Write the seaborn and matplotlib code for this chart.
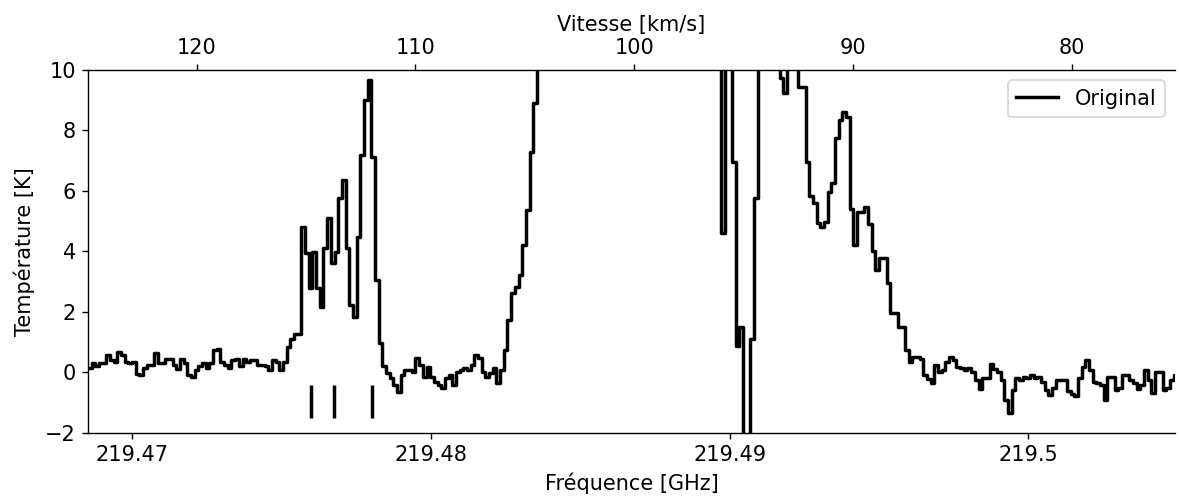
import numpy as np
import pandas as pd
import matplotlib
matplotlib.use("Agg")
import matplotlib.pyplot as plt
import matplotlib as mpl
import matplotlib.ticker as mticker
import seaborn as sns

mpl.rcParams["axes.labelsize"] = 12
mpl.rcParams["xtick.labelsize"] = 12
mpl.rcParams["ytick.labelsize"] = 12
mpl.rcParams["legend.fontsize"] = 12

# spectral grid (GHz)
FREQ_START = 219.468513
CHANNEL_WIDTH = 0.00012321
REST_FREQ = 219.56004  # for the velocity axis
C_KMS = 299792.458

# brightness temperature per channel [K]
baseline_left = [0.15, 0.3, 0.2, 0.3, 0.3, 0.58, 0.4, 0.36, 0.69, 0.58, 0.36, 0.3,
                 0.36, -0.05, -0.08, 0.15, 0.26, 0.26, 0.63, 0.3, 0.3, 0.43, 0.43,
                 0.26, 0.1, 0.46, 0.3, -0.08, -0.14, 0.07, 0.2, 0.3, 0.15, 0.3, 0.73,
                 0.77, 0.36, 0.25, 0.15, 0.41, 0.43, 0.2, 0.46, 0.36, 0.41, 0.41,
                 0.25, 0.25, 0.2, 0.08, 0.41, 0.36, 0.08, 0.36, 0.85, 1.1, 1.27, 1.27]
hyperfine_group = [4.82, 3.95, 2.79, 3.98, 2.79, 2.18, 4.11, 5.1, 3.62, 3.98, 5.77,
                   6.36, 4.11, 2.23, 1.85, 4.49, 7.19, 9.0, 9.67,
                   7.13, 3.06, 0.97, 0.2, -0.03, -0.19, -0.41, -0.63]
baseline_mid = [-0.08, 0.08, 0.08, 0.03, 0.47, 0.25, -0.14, 0.19, -0.14, -0.3, -0.41,
                -0.52, -0.19, -0.08, -0.41, 0.03, 0.08, 0.14, 0.08, 0.25, 0.58, 0.47,
                0.03, -0.14, -0.03, 0.14, -0.36, 0.08, 0.74, 1.74, 2.62, 2.84, 3.22,
                4.21, 5.37, 7.3, 8.9]
main_line = [11.2, 12.5, 13.8, 15.1, 16.6, 18.0, 19.7, 21.3, 23.0, 24.8, 26.5, 28.1,
             29.6, 31.0, 32.2, 33.1, 33.9, 34.4, 34.6, 34.5, 34.1, 33.4, 32.5, 31.3,
             30.0, 28.6, 27.1, 25.5, 24.0, 22.4, 20.9, 19.5, 18.2, 17.0, 15.9, 14.9,
             14.1, 13.4, 12.8, 12.3, 12.0, 11.8, 11.7, 11.9, 12.4, 13.0, 13.3, 13.1,
             12.6, 11.8,
             4.6, 11.5, 10.8, 6.97, 0.88, 1.51, -4.5, -3.8, 1.1, 5.76,
             11.4, 12.6, 13.2, 12.7, 11.6, 10.5, 9.73, 9.23, 10.4, 10.9, 10.3]
red_wing = [9.45, 9.45, 6.97, 5.83, 5.59, 4.93, 4.82, 4.99, 5.98, 6.25, 7.74, 8.33,
            8.62, 8.43, 5.39, 4.21, 5.32, 5.32, 5.48, 4.91, 4.03, 3.39, 3.78, 3.78,
            2.97, 1.96, 1.96, 1.51, 1.51, 0.74, 0.36]
baseline_right = [0.52, 0.52, 0.44, -0.08, -0.23, -0.34, 0.25, 0.03, 0.08, 0.36, 0.5,
                  0.41, 0.19, 0.14, 0.08, 0.14, 0.03, -0.25, -0.56, -0.19, -0.19, 0.28,
                  0.1, 0.03, -0.25, -0.91, -1.33, -0.58, -0.19, -0.25, -0.14, -0.19,
                  -0.08, -0.19, -0.14, -0.3,
                  -0.58, -0.74, -0.52, -0.25, -0.25, -0.25, -0.62, -0.7, -0.78, -0.19,
                  0.19, 0.41, 0.08, -0.3, -0.36, -0.41, -0.91, -0.14, -0.14, -0.58,
                  -0.52, -0.08, -0.08, -0.25, -0.36, -0.56, -0.41, 0.08, -0.25, -0.69,
                  0.03, 0.0, -0.58, -0.52, -0.25, -0.08]

# frequencies of the marked hyperfine components (GHz)
marker_freqs = [219.47597, 219.47676, 219.47801]
marker_range = (-1.5, -0.4)
vel_ticks = [120, 110, 100, 90, 80]

temps = baseline_left + hyperfine_group + baseline_mid + main_line + red_wing + baseline_right
freqs = FREQ_START + CHANNEL_WIDTH * (np.arange(len(temps)) + 0.5)
df = pd.DataFrame({"freq": freqs, "temp": temps})


def freq_to_vel(f):
    return C_KMS * (1.0 - np.asarray(f) / REST_FREQ)


def vel_to_freq(v):
    return REST_FREQ * (1.0 - np.asarray(v) / C_KMS)


fig, ax = plt.subplots(figsize=(9.432, 4.016), dpi=125)
fig.subplots_adjust(left=0.0746, right=0.9966, top=0.8606, bottom=0.1375)

sns.lineplot(data=df, x="freq", y="temp", ax=ax, color="black", linewidth=2,
             drawstyle="steps-mid", estimator=None, sort=False, label="Original")
ax.vlines(marker_freqs, *marker_range, color="black", linewidth=2)

ax.set_xlim(219.468513, 219.504908)
ax.set_ylim(-2, 10)
ax.set_xlabel("Fréquence [GHz]")
ax.set_ylabel("Température [K]", labelpad=6)
ax.xaxis.set_major_locator(mticker.MultipleLocator(0.01))
ax.xaxis.set_major_formatter(mticker.FuncFormatter(lambda x, pos: f"{x:g}"))

secax = ax.secondary_xaxis("top", functions=(freq_to_vel, vel_to_freq))
secax.set_xlabel("Vitesse [km/s]")
secax.xaxis.set_major_locator(mticker.FixedLocator(vel_ticks))

sns.despine(ax=ax, right=True, top=True)
ax.legend(loc="upper right")

fig.savefig("out.png", dpi=125)
